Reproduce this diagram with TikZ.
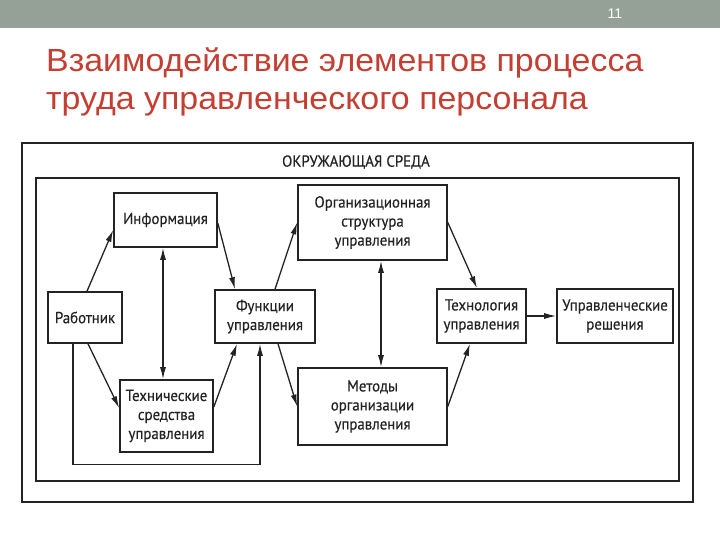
\documentclass[tikz,border=0pt]{standalone}
\usepackage{fontspec}
\setmainfont[FakeStretch=0.93,FakeBold=0.4]{PT Sans}
\newfontfamily\titlefont[FakeStretch=1.06]{Liberation Sans}
\newfontfamily\numfont{Liberation Sans}
\usepackage{xcolor}
\definecolor{bandgray}{RGB}{149,161,151}
\definecolor{titlered}{RGB}{196,62,50}
\definecolor{ink}{RGB}{35,35,35}
\usepackage{tikz}
\usetikzlibrary{arrows.meta}
\usetikzlibrary{calc}

\begin{document}
\begin{tikzpicture}[x=1pt,y=-1pt,
  box/.style={draw=ink,line width=1.6pt,inner sep=0pt,align=center,text=ink,font=\fontsize{16}{19}\selectfont},
  arr/.style={draw=ink,-{Latex[length=12pt,width=6pt]},line width=1.3pt},
  dbl/.style={draw=ink,{Latex[length=12pt,width=6pt]}-{Latex[length=12pt,width=6pt]},line width=1.3pt},
  heading/.style={font=\titlefont\fontsize{32}{35}\selectfont,text=titlered,anchor=base west,inner sep=0pt}]
\useasboundingbox (0,0) rectangle (720,540);
\fill[bandgray] (0,0) rectangle (720,28);
\node[font=\numfont\fontsize{14}{16}\selectfont,text=white] (num) at (615,14) {11};
\node[heading] (title1) at (46,72) {Взаимодействие элементов процесса};
\node[heading] (title2) at (46,110) {труда управленческого персонала};
%\fill[white] (22,143) rectangle (693,502);
\draw[ink,line width=2pt] (22,143) rectangle (693,502);
\draw[ink,line width=2pt] (36,178) rectangle (679,481);
\node[text=ink,font=\fontsize{16}{19}\selectfont] (env) at (356,162) {ОКРУЖАЮЩАЯ СРЕДА};
\node[box,minimum width=103pt,minimum height=54pt] (info) at (165.5,220) {Информация};
\node[box,minimum width=74pt,minimum height=51pt] (worker) at (85,317.5) {Работник};
\node[box,minimum width=100pt,minimum height=53pt] (func) at (265,316.5) {Функции\\управления};
\node[box,minimum width=149pt,minimum height=75pt] (orgstr) at (372.5,222.5) {Организационная\\структура\\управления};
\node[box,minimum width=89pt,minimum height=54pt] (tech) at (481.5,316) {Технология\\управления};
\node[box,minimum width=116pt,minimum height=54pt] (decis) at (615,316) {Управленческие\\решения};
\node[box,minimum width=93pt,minimum height=72pt] (tools) at (166.5,416) {Технические\\средства\\управления};
\node[box,minimum width=149pt,minimum height=77pt] (methods) at (372.5,406.5) {Методы\\организации\\управления};
\draw[arr] ([xshift=2pt]worker.north) -- ([yshift=-10pt]info.west);
\draw[arr] ([yshift=-3pt]info.east) -- ([xshift=-30pt]func.north);
\draw[arr] ([xshift=10pt]func.north) -- (orgstr.west);
\draw[arr] (orgstr.east) -- ([xshift=-4.5pt]tech.north);
\draw[arr] (tech.east) -- (decis.west);
\draw[dbl] ([xshift=-2.5pt]info.south) -- ([xshift=-2.5pt]info.south |- tools.north);
\draw[dbl] ([xshift=8.5pt]orgstr.south) -- ([xshift=8.5pt]orgstr.south |- methods.north);
\draw[arr] ([xshift=3pt]worker.south) -- ([yshift=8pt]tools.west);
\draw[arr] ([yshift=9pt]tools.east) -- ([xshift=-28pt]func.south);
\draw[arr] ([xshift=13pt]func.south) -- (methods.west);
\draw[arr] (methods.east) -- ([xshift=-11.5pt]tech.south);
\draw[arr] ([xshift=-12pt]worker.south) -- ++(0,121) -| ([xshift=-5pt]func.south);
\end{tikzpicture}
\end{document}
